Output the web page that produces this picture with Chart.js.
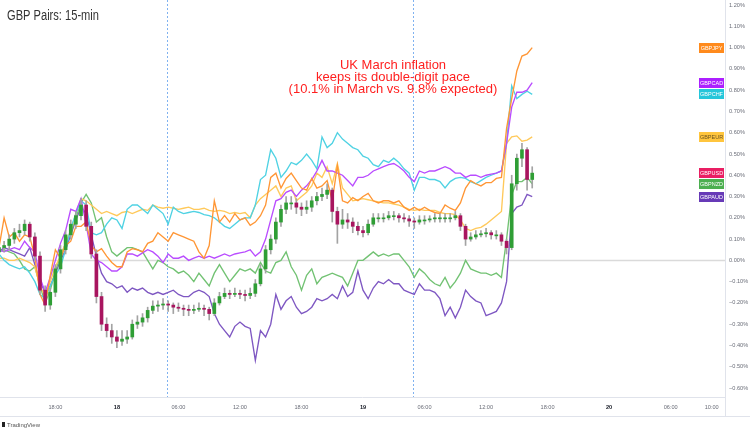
<!DOCTYPE html>
<html>
<head>
<meta charset="utf-8">
<script src="https://cdn.jsdelivr.net/npm/chart.js@4.4.0/dist/chart.umd.min.js"></script>
<style>
  html, body { margin: 0; padding: 0; background: #fff; }
  canvas { display: block; }
</style>
</head>
<body>
<canvas id="myChart" width="750" height="430"></canvas>
<script>
// 시간축: 17일 00:00 기준 시간(h), 30분 간격
const times = [];
for (let t = 12.5; t <= 64.5; t += 0.5) times.push(t);

// x축 눈금 (시간, 라벨)
const xTickHours = [18, 24, 30, 36, 42, 48, 54, 60, 66, 72, 78, 82];
const xTickLabels = ['18:00', '18', '06:00', '12:00', '18:00', '19', '06:00', '12:00', '18:00', '20', '06:00', '10:00'];
const dayLabels = ['18', '19', '20'];

// y축 눈금 (%)
const yTickValues = [1.2, 1.1, 1.0, 0.9, 0.8, 0.7, 0.6, 0.5, 0.4, 0.3, 0.2, 0.1, 0, -0.1, -0.2, -0.3, -0.4, -0.5, -0.6];

// 세션 구분 점선 (시간)
const sessionBreaks = [28.85, 52.9];

// 라인 시리즈 (% 변화)
const jpy = [0.06, 0.20, 0.11, 0.13, 0.09, 0.12, 0.11, 0.02, -0.16, -0.21,
  -0.07, 0.05, 0.01, 0.07, 0.09, 0.16, 0.16, 0.18, 0.07, 0.04,
  0.055, 0.02, -0.01, -0.03, -0.03, 0.04, 0.055, 0.05, 0.04, 0.08,
  0.09, 0.13, 0.11, 0.09, 0.13, 0.12, 0.11, 0.10, 0.09, 0.04,
  0.01, 0.07, 0.28, 0.18, 0.21, 0.18, 0.22, 0.19, 0.20, 0.165,
  0.18, 0.21, 0.26, 0.39, 0.41, 0.34, 0.385, 0.41, 0.375, 0.34,
  0.33, 0.385, 0.34, 0.35, 0.375, 0.28, 0.445, 0.28, 0.27, 0.295,
  0.28, 0.30, 0.315, 0.28, 0.27, 0.28, 0.28, 0.27, 0.28, 0.25,
  0.235, 0.25, 0.235, 0.25, 0.235, 0.225, 0.22, 0.26, 0.245, 0.235,
  0.27, 0.34, 0.375, 0.36, 0.35, 0.365, 0.365, 0.385, 0.39, 0.62,
  0.76, 0.89, 0.96, 0.97, 1.00];

const cad = [0.05, 0.04, 0.05, 0.06, 0.05, 0.09, 0.06, 0.04, -0.08, -0.15,
  -0.08, 0.00, 0.08, 0.14, 0.24, 0.23, 0.29, 0.17, 0.03, 0.00,
  -0.01, -0.03, -0.05, -0.05, -0.03, 0.03, 0.03, 0.02, 0.035, 0.05,
  0.04, 0.02, -0.01, 0.03, 0.01, 0.01, 0.02, 0.00, 0.01, 0.02,
  0.01, 0.02, 0.01, 0.02, 0.03, 0.02, 0.03, 0.035, 0.04, 0.05,
  0.02, 0.04, 0.10, 0.19, 0.28, 0.29, 0.32, 0.33, 0.30, 0.33,
  0.35, 0.38, 0.42, 0.47, 0.42, 0.42, 0.41, 0.40, 0.375, 0.35,
  0.39, 0.39, 0.40, 0.42, 0.43, 0.44, 0.45, 0.455, 0.44, 0.42,
  0.39, 0.37, 0.42, 0.41, 0.42, 0.42, 0.43, 0.44, 0.43, 0.41,
  0.41, 0.39, 0.40, 0.40, 0.39, 0.40, 0.405, 0.41, 0.42, 0.55,
  0.72, 0.79, 0.79, 0.80, 0.835];

const chf = [0.03, 0.00, -0.02, -0.03, -0.04, -0.03, -0.06, -0.10, -0.16, -0.18,
  -0.12, -0.07, -0.03, 0.05, 0.15, 0.22, 0.28, 0.26, 0.13, 0.12,
  0.13, 0.17, 0.20, 0.19, 0.15, 0.24, 0.26, 0.26, 0.24, 0.22,
  0.26, 0.24, 0.22, 0.17, 0.25, 0.23, 0.22, 0.225, 0.23, 0.225,
  0.215, 0.21, 0.20, 0.18, 0.16, 0.15, 0.17, 0.19, 0.20, 0.20,
  0.26, 0.38, 0.40, 0.52, 0.48, 0.39, 0.42, 0.46, 0.45, 0.47,
  0.50, 0.47, 0.43, 0.58, 0.53, 0.55, 0.60, 0.57, 0.55, 0.53,
  0.52, 0.49, 0.48, 0.45, 0.44, 0.47, 0.46, 0.48, 0.46, 0.43,
  0.41, 0.33, 0.39, 0.39, 0.38, 0.38, 0.37, 0.34, 0.37, 0.385,
  0.39, 0.385, 0.37, 0.36, 0.375, 0.39, 0.40, 0.41, 0.42, 0.55,
  0.82, 0.76, 0.78, 0.795, 0.78];

const eur = [0.01, 0.01, 0.00, 0.00, 0.01, 0.00, -0.01, -0.03, -0.12, -0.17,
  -0.10, -0.03, 0.02, 0.08, 0.14, 0.22, 0.29, 0.28, 0.26, 0.24,
  0.22, 0.23, 0.22, 0.21, 0.225, 0.23, 0.22, 0.23, 0.24, 0.235,
  0.26, 0.25, 0.245, 0.25, 0.245, 0.24, 0.245, 0.25, 0.24, 0.24,
  0.245, 0.235, 0.23, 0.235, 0.23, 0.22, 0.225, 0.22, 0.225, 0.20,
  0.26, 0.29, 0.31, 0.33, 0.35, 0.30, 0.34, 0.35, 0.28, 0.30,
  0.32, 0.35, 0.41, 0.39, 0.44, 0.36, 0.455, 0.34, 0.31, 0.28,
  0.285, 0.29, 0.285, 0.28, 0.275, 0.27, 0.27, 0.265, 0.26, 0.25,
  0.24, 0.235, 0.24, 0.235, 0.235, 0.235, 0.225, 0.22, 0.22, 0.215,
  0.19, 0.15, 0.14, 0.15, 0.155, 0.17, 0.19, 0.21, 0.23, 0.55,
  0.58, 0.585, 0.56, 0.565, 0.58];

const nzd = [0.04, 0.05, 0.04, 0.03, 0.00, -0.04, -0.05, -0.03, -0.12, -0.20,
  -0.14, -0.05, 0.02, 0.08, 0.13, 0.20, 0.27, 0.31, 0.27, 0.18,
  0.20, 0.11, 0.04, 0.02, 0.04, 0.06, 0.06, 0.05, 0.04, 0.00,
  -0.04, 0.00, -0.01, -0.03, -0.04, -0.06, -0.05, -0.07, -0.10, -0.06,
  -0.09, -0.12, -0.06, -0.02, -0.06, -0.10, -0.07, -0.04, -0.05, -0.04,
  -0.06, -0.01, -0.05, -0.06, -0.01, 0.00, 0.04, -0.03, -0.07, -0.14,
  -0.07, -0.04, -0.11, -0.08, -0.07, -0.06, -0.07, -0.08, -0.12, -0.06,
  0.00, 0.00, 0.02, 0.04, 0.02, 0.03, 0.02, 0.03, 0.03, 0.00,
  -0.03, -0.08, -0.04, -0.06, -0.09, -0.11, -0.12, -0.08, -0.13, -0.10,
  -0.06, 0.00, -0.04, -0.05, -0.06, -0.06, -0.07, -0.06, -0.08, 0.10,
  0.31, 0.37, 0.37, 0.39, 0.36];

const aud = [0.04, 0.06, 0.05, 0.04, 0.03, 0.02, 0.06, -0.02, -0.10, -0.15,
  -0.12, -0.06, 0.00, 0.05, 0.12, 0.19, 0.25, 0.22, 0.12, 0.02,
  -0.06, -0.10, -0.11, -0.13, -0.12, -0.15, -0.13, -0.14, -0.13, -0.15,
  -0.16, -0.15, -0.16, -0.15, -0.14, -0.16, -0.17, -0.17, -0.15, -0.14,
  -0.15, -0.17, -0.25, -0.30, -0.33, -0.36, -0.31, -0.29, -0.31, -0.32,
  -0.47, -0.33, -0.36, -0.30, -0.16, -0.23, -0.19, -0.17, -0.22, -0.25,
  -0.24, -0.22, -0.18, -0.19, -0.18, -0.16, -0.18, -0.12, -0.17, -0.15,
  -0.05, -0.14, -0.18, -0.13, -0.10, -0.11, -0.09, -0.11, -0.11, -0.14,
  -0.15, -0.16, -0.11, -0.14, -0.14, -0.15, -0.18, -0.26, -0.22, -0.27,
  -0.22, -0.14, -0.17, -0.19, -0.20, -0.26, -0.25, -0.24, -0.20, -0.10,
  0.22, 0.25, 0.26, 0.31, 0.30];

// GBPUSD 캔들 (시가/고가/저가/종가)
const usdOpen = [0.04, 0.06, 0.07, 0.10, 0.13, 0.14, 0.17, 0.11, 0.02, -0.14,
  -0.21, -0.15, -0.04, 0.05, 0.12, 0.17, 0.21, 0.26, 0.16, 0.03,
  -0.17, -0.30, -0.33, -0.36, -0.38, -0.37, -0.36, -0.30, -0.29, -0.27,
  -0.235, -0.215, -0.21, -0.205, -0.21, -0.22, -0.225, -0.23, -0.235, -0.23,
  -0.225, -0.23, -0.25, -0.20, -0.17, -0.155, -0.16, -0.155, -0.16, -0.165,
  -0.155, -0.11, -0.04, 0.05, 0.10, 0.18, 0.24, 0.27, 0.27, 0.25,
  0.24, 0.25, 0.28, 0.30, 0.31, 0.33, 0.23, 0.17, 0.19, 0.18,
  0.16, 0.14, 0.13, 0.17, 0.20, 0.20, 0.20, 0.21, 0.21, 0.20,
  0.195, 0.185, 0.18, 0.19, 0.19, 0.195, 0.20, 0.20, 0.20, 0.20,
  0.21, 0.16, 0.10, 0.11, 0.12, 0.125, 0.13, 0.12, 0.12, 0.09,
  0.06, 0.36, 0.48, 0.52, 0.38];
const usdHigh = [0.08, 0.09, 0.12, 0.15, 0.17, 0.19, 0.18, 0.13, 0.04, -0.12,
  -0.13, -0.02, 0.07, 0.14, 0.19, 0.23, 0.29, 0.28, 0.18, 0.05,
  -0.15, -0.27, -0.30, -0.33, -0.33, -0.33, -0.28, -0.26, -0.25, -0.22,
  -0.19, -0.19, -0.18, -0.19, -0.20, -0.20, -0.21, -0.21, -0.21, -0.20,
  -0.21, -0.22, -0.18, -0.15, -0.13, -0.14, -0.13, -0.14, -0.14, -0.13,
  -0.09, -0.02, 0.07, 0.12, 0.20, 0.26, 0.30, 0.30, 0.29, 0.27,
  0.28, 0.30, 0.32, 0.34, 0.36, 0.34, 0.25, 0.24, 0.22, 0.20,
  0.18, 0.16, 0.19, 0.22, 0.22, 0.22, 0.23, 0.23, 0.22, 0.22,
  0.21, 0.20, 0.21, 0.21, 0.21, 0.22, 0.22, 0.22, 0.22, 0.23,
  0.22, 0.17, 0.13, 0.14, 0.14, 0.15, 0.14, 0.14, 0.13, 0.10,
  0.40, 0.50, 0.55, 0.53, 0.44];
const usdLow = [0.02, 0.04, 0.05, 0.08, 0.11, 0.12, 0.09, 0.00, -0.16, -0.24,
  -0.23, -0.17, -0.06, 0.03, 0.10, 0.15, 0.19, 0.14, 0.01, -0.20,
  -0.33, -0.36, -0.39, -0.41, -0.40, -0.39, -0.37, -0.32, -0.31, -0.29,
  -0.25, -0.24, -0.23, -0.24, -0.25, -0.24, -0.26, -0.26, -0.25, -0.24,
  -0.26, -0.28, -0.26, -0.21, -0.18, -0.18, -0.17, -0.18, -0.19, -0.18,
  -0.17, -0.12, -0.06, 0.03, 0.08, 0.16, 0.22, 0.24, 0.22, 0.21,
  0.22, 0.23, 0.26, 0.28, 0.29, 0.18, 0.08, 0.15, 0.15, 0.13,
  0.12, 0.11, 0.12, 0.16, 0.18, 0.18, 0.19, 0.19, 0.18, 0.18,
  0.16, 0.15, 0.17, 0.17, 0.18, 0.18, 0.18, 0.18, 0.18, 0.19,
  0.14, 0.07, 0.09, 0.10, 0.11, 0.11, 0.10, 0.10, 0.07, 0.03,
  0.05, 0.33, 0.44, 0.33, 0.34];
const usdClose = [0.06, 0.07, 0.10, 0.13, 0.14, 0.17, 0.11, 0.02, -0.14, -0.21,
  -0.15, -0.04, 0.05, 0.12, 0.17, 0.21, 0.26, 0.16, 0.03, -0.17,
  -0.30, -0.33, -0.36, -0.38, -0.37, -0.36, -0.30, -0.29, -0.27, -0.235,
  -0.215, -0.21, -0.205, -0.21, -0.22, -0.225, -0.23, -0.235, -0.23, -0.225,
  -0.23, -0.25, -0.20, -0.17, -0.155, -0.16, -0.155, -0.16, -0.165, -0.155,
  -0.11, -0.04, 0.05, 0.10, 0.18, 0.24, 0.27, 0.27, 0.25, 0.24,
  0.25, 0.28, 0.30, 0.31, 0.33, 0.23, 0.17, 0.19, 0.18, 0.16,
  0.14, 0.13, 0.17, 0.20, 0.20, 0.20, 0.21, 0.21, 0.20, 0.195,
  0.185, 0.18, 0.19, 0.19, 0.195, 0.20, 0.20, 0.20, 0.20, 0.21,
  0.16, 0.10, 0.11, 0.12, 0.125, 0.13, 0.12, 0.12, 0.09, 0.06,
  0.36, 0.48, 0.52, 0.38, 0.41];

// 시리즈 스타일
const lineSeries = [
  { name: 'GBPJPY', data: jpy, color: '#ff9635' },
  { name: 'GBPCAD', data: cad, color: '#b94cff' },
  { name: 'GBPCHF', data: chf, color: '#4fd2e3' },
  { name: 'GBPEUR', data: eur, color: '#ffc95a' },
  { name: 'GBPNZD', data: nzd, color: '#72c273' },
  { name: 'GBPAUD', data: aud, color: '#7e57c2' }
];
const tagStyles = {
  GBPJPY: { bg: '#ff8a1c', fg: '#fff' },
  GBPCAD: { bg: '#ac1fff', fg: '#fff' },
  GBPCHF: { bg: '#26c6da', fg: '#fff' },
  GBPEUR: { bg: '#ffc53d', fg: '#6b5320' },
  GBPUSD: { bg: '#e91e63', fg: '#fff' },
  GBPNZD: { bg: '#4caf50', fg: '#fff' },
  GBPAUD: { bg: '#673ab7', fg: '#fff' }
};
const upColor = '#2f9e35';
const downColor = '#a8155f';

const xy = (arr) => times.map((t, i) => ({ x: t, y: arr[i] }));

// 선 데이터셋
const datasets = lineSeries.map(s => ({
  type: 'line',
  label: s.name,
  data: xy(s.data),
  borderColor: s.color,
  borderWidth: 1.35,
  pointRadius: 0,
  tension: 0,
  order: 3
}));

// 캔들 심지 + 몸통
datasets.push({
  type: 'bar',
  label: 'GBPUSD wick',
  data: times.map((t, i) => ({ x: t, y: [usdLow[i], usdHigh[i]] })),
  backgroundColor: '#a3a3a3',
  barThickness: 1,
  grouped: false,
  order: 2
});
datasets.push({
  type: 'bar',
  label: 'GBPUSD',
  data: times.map((t, i) => ({ x: t, y: [usdOpen[i], usdClose[i]] })),
  backgroundColor: times.map((t, i) => usdClose[i] >= usdOpen[i] ? upColor : downColor),
  barThickness: 3,
  minBarLength: 1,
  grouped: false,
  order: 1
});

// 배경 장식, 라벨, 텍스트
const decorations = {
  id: 'decorations',
  beforeDatasetsDraw(chart) {
    const { ctx, chartArea: a, scales: { x, y } } = chart;
    ctx.save();
    const y0 = Math.round(y.getPixelForValue(0)) + 0.5;
    ctx.strokeStyle = '#dadada';
    ctx.lineWidth = 1.5;
    ctx.beginPath(); ctx.moveTo(a.left, y0); ctx.lineTo(a.right, y0); ctx.stroke();
    ctx.strokeStyle = '#7fb2f0';
    ctx.lineWidth = 1;
    ctx.setLineDash([2, 2]);
    sessionBreaks.forEach(h => {
      const px = Math.round(x.getPixelForValue(h)) + 0.5;
      ctx.beginPath(); ctx.moveTo(px, a.top); ctx.lineTo(px, a.bottom); ctx.stroke();
    });
    ctx.restore();
  },
  afterDraw(chart) {
    const { ctx, chartArea: a, scales: { y } } = chart;
    ctx.save();
    // 축 테두리
    ctx.strokeStyle = '#e0e3eb';
    ctx.lineWidth = 1;
    ctx.beginPath();
    ctx.moveTo(a.right + 0.5, 0); ctx.lineTo(a.right + 0.5, 416.5);
    ctx.moveTo(0, a.bottom + 0.5); ctx.lineTo(a.right, a.bottom + 0.5);
    ctx.moveTo(0, 416.5); ctx.lineTo(750, 416.5);
    ctx.stroke();

    // 마지막 값 라벨
    const tags = lineSeries.map(s => ({ name: s.name, v: s.data[s.data.length - 1] }));
    tags.push({ name: 'GBPUSD', v: usdClose[usdClose.length - 1] });
    tags.forEach(t => { t.py = y.getPixelForValue(t.v); });
    tags.sort((p, q) => p.py - q.py);
    let prev = -100;
    ctx.font = '5.5px "Liberation Sans", Arial, sans-serif';
    ctx.textAlign = 'center';
    ctx.textBaseline = 'middle';
    tags.forEach(t => {
      const py = Math.max(t.py, prev + 11);
      prev = py;
      const st = tagStyles[t.name];
      ctx.fillStyle = st.bg;
      ctx.fillRect(a.right - 26, Math.round(py - 5), 25, 10);
      ctx.fillStyle = st.fg;
      ctx.fillText(t.name, a.right - 13.5, Math.round(py) + 0.5);
    });

    // 제목 (좁은 글꼴 느낌으로 가로 폭 맞춤)
    ctx.textAlign = 'left';
    ctx.textBaseline = 'alphabetic';
    ctx.fillStyle = '#333';
    ctx.font = '14px "Liberation Sans", Arial, sans-serif';
    const title = 'GBP Pairs: 15-min';
    const sx = 92 / ctx.measureText(title).width;
    ctx.save();
    ctx.translate(7, 20);
    ctx.scale(sx, 1);
    ctx.fillText(title, 0, 0);
    ctx.restore();

    // 주석
    ctx.textAlign = 'center';
    ctx.fillStyle = '#ff1f1f';
    ctx.font = '13px "Liberation Sans", Arial, sans-serif';
    ctx.fillText('UK March inflation', 393, 69);
    ctx.fillText('keeps its double-digit pace', 393, 81);
    ctx.fillText('(10.1% in March vs. 9.8% expected)', 393, 93);

    // 로고
    ctx.textAlign = 'left';
    ctx.fillStyle = '#222';
    ctx.fillRect(2, 422, 3, 5);
    ctx.fillStyle = '#555';
    ctx.font = '6px "Liberation Sans", Arial, sans-serif';
    ctx.fillText('TradingView', 7, 427);
    ctx.restore();
  }
};

var chartArea = document.getElementById('myChart').getContext('2d');
var myChart = new Chart(chartArea, {
  type: 'bar',
  data: { datasets: datasets },
  options: {
    responsive: false,
    animation: false,
    layout: { padding: 0 },
    scales: {
      x: {
        type: 'linear',
        min: 12.6,
        max: 83.3,
        offset: false,
        grid: { display: false, drawTicks: false },
        border: { display: false },
        afterBuildTicks: (scale) => { scale.ticks = xTickHours.map(v => ({ value: v })); },
        afterFit: (scale) => { scale.height = 33; scale.paddingLeft = 0; scale.paddingRight = 0; },
        ticks: {
          autoSkip: false,
          maxRotation: 0,
          padding: 7,
          callback: (v, i) => xTickLabels[i],
          color: (c) => dayLabels.includes(xTickLabels[c.index]) ? '#131722' : '#6a6d78',
          font: (c) => ({
            family: '"Liberation Sans", Arial, sans-serif',
            size: 5.6,
            weight: dayLabels.includes(xTickLabels[c.index]) ? 'bold' : 'normal'
          })
        }
      },
      y: {
        position: 'right',
        min: -0.642,
        max: 1.2235,
        grid: { display: false, drawTicks: false },
        border: { display: false },
        afterBuildTicks: (scale) => { scale.ticks = yTickValues.map(v => ({ value: v })); },
        afterFit: (scale) => { scale.width = 25; scale.paddingTop = 0; scale.paddingBottom = 0; },
        ticks: {
          autoSkip: false,
          padding: 4,
          color: '#6a6d78',
          font: { family: '"Liberation Sans", Arial, sans-serif', size: 5.6 },
          callback: (v) => (v < 0 ? '\u2212' : '') + Math.abs(v).toFixed(2) + '%'
        }
      }
    },
    plugins: {
      legend: { display: false },
      tooltip: { enabled: false }
    }
  },
  plugins: [decorations]
});
</script>
</body>
</html>
